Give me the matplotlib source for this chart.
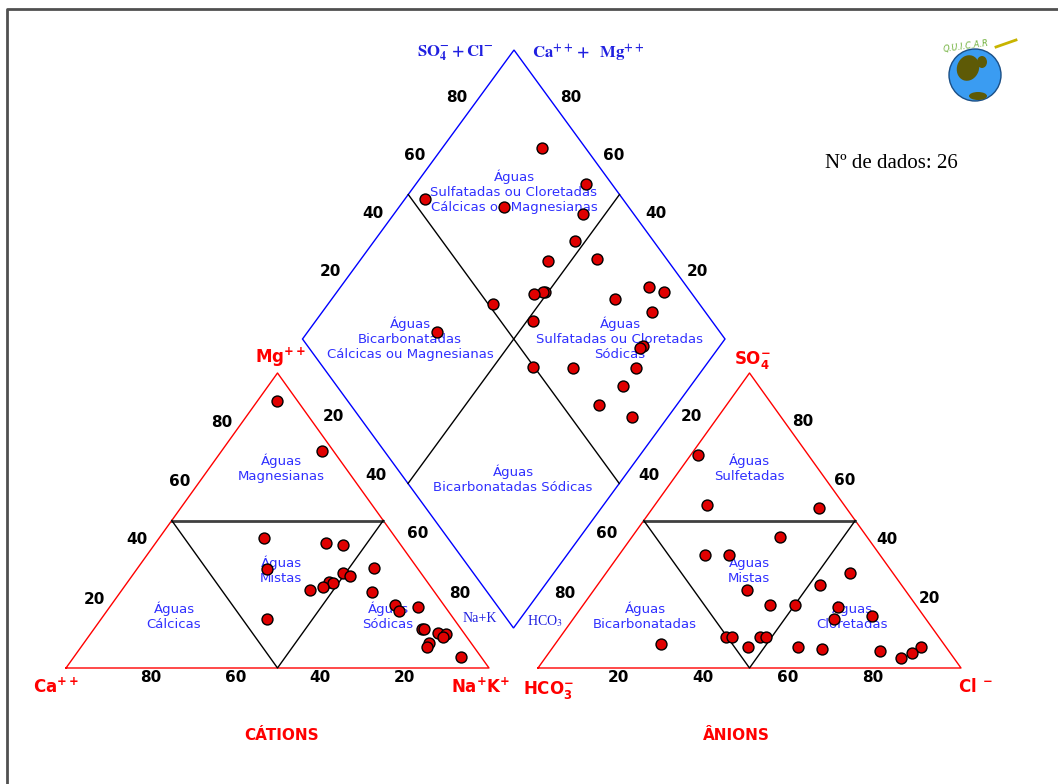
import numpy as np
import matplotlib.pyplot as plt
from matplotlib.patches import Polygon, Circle, Ellipse

# cations, % meq/L
ca = [4.9, 2.7, 31.1, 17.4, 13.7, 35.8, 10.1, 18.4, 17.4, 23.2, 22.5, 29.2, 25.6,
      14.6, 44.2, 11.5, 11.6, 6.4, 9.3, 8.7, 6.2, 4.4, 5.5, 10.0, 11.2, 4.8]
mg = [90.4, 73.6, 44.1, 42.3, 41.7, 33.5, 34.0, 32.2, 31.1, 29.3, 28.7, 26.3, 27.4,
      25.9, 16.7, 21.4, 19.3, 20.6, 13.3, 13.3, 11.9, 11.5, 10.6, 8.6, 7.1, 3.7]
nak = [4.7, 23.7, 24.8, 40.3, 44.6, 30.7, 55.9, 49.4, 51.5, 47.5, 48.8, 44.5, 47.0,
       59.5, 39.1, 67.1, 69.1, 73.0, 77.4, 78.0, 81.9, 84.1, 83.9, 81.4, 81.7, 91.5]
# anions, % meq/L
hco3 = [46.7, 10.2, 29.6, 6.0, 12.1, 66.9, 16.3, 34.4, 42.4, 18.7, 35.0, 28.4, 37.4,
        50.3, 48.9, 19.2, 40.9, 9.1, 6.5, 12.5, 20.5, 26.1, 32.4, 21.8, 41.3, 35.6]
so4 = [7.1, 32.1, 6.5, 7.1, 17.7, 8.0, 5.7, 21.5, 10.4, 20.8, 7.1, 21.5, 26.3,
       10.4, 10.4, 28.2, 10.4, 5.1, 54.2, 3.3, 44.5, 72.1, 55.2, 16.6, 38.3, 38.3]
cl = [46.2, 57.7, 63.9, 86.9, 70.2, 25.1, 78.0, 44.1, 47.2, 60.5, 57.9, 50.1, 36.3,
      39.3, 40.7, 52.6, 48.7, 85.8, 39.3, 84.2, 35.0, 1.8, 12.4, 61.6, 20.4, 26.1]
ticks = [20, 40, 60, 80]

W, H = 1058, 784
fig = plt.figure(figsize=(W / 100, H / 100), dpi=100)
ax = fig.add_axes([0, 0, 1, 1])
ax.set_xlim(0, W)
ax.set_ylim(H, 0)
ax.axis('off')

# layout in pixel space
side, tri_h = 423, 295
cat0 = (66.0, 668.0)
an0 = (538.0, 668.0)
top = np.array([514.0, 50.0])
left = np.array([302.5, 339.0])
right = np.array([725.0, 339.0])
bottom = left + right - top


def tri_xy(origin, rf, tf):
    rf, tf = np.asarray(rf, float), np.asarray(tf, float)
    return origin[0] + side * (rf + tf / 2), origin[1] - tri_h * tf


def dia_xy(u, v):
    u, v = np.asarray(u, float), np.asarray(v, float)
    x = top[0] + u * (right[0] - top[0]) + v * (left[0] - top[0])
    y = top[1] + u * (right[1] - top[1]) + v * (left[1] - top[1])
    return x, y


ca, mg, nak = map(np.array, (ca, mg, nak))
hco3, so4, cl = map(np.array, (hco3, so4, cl))
ct = ca + mg + nak
at = hco3 + so4 + cl

red, blue = '#ff0000', '#0000ff'

# triangles
for o in (cat0, an0):
    xs, ys = tri_xy(o, [0, 1, 0, 0], [0, 0, 1, 0])
    ax.plot(xs, ys, color=red, lw=1)
    xs, ys = tri_xy(o, [0, 0.5], [0.5, 0.5])
    ax.plot(xs, ys, color='#404040', lw=2)
    xs, ys = tri_xy(o, [0, 0.5, 0.5], [0.5, 0, 0.5])
    ax.plot(xs, ys, color='black', lw=1)

# diamond
ax.add_patch(Polygon([top, right, bottom, left], closed=True, fill=False, ec=blue, lw=1))
xs, ys = dia_xy([0, 1], [0.5, 0.5])
ax.plot(xs, ys, color='black', lw=1)
xs, ys = dia_xy([0.5, 0.5], [0, 1])
ax.plot(xs, ys, color='black', lw=1)

# tick labels
tk = dict(fontsize=11, fontweight='bold', ha='center', va='center', color='black')
for t in ticks:
    f = t / 100
    x, y = tri_xy(cat0, 1 - f, 0)
    ax.text(x, y + 10, str(t), **tk)
    x, y = tri_xy(cat0, 0, f)
    ax.text(x - 13.5, y - 10, str(t), **tk)
    x, y = tri_xy(cat0, f, 1 - f)
    ax.text(x + 13.5, y - 16, str(t), **tk)
    x, y = tri_xy(an0, f, 0)
    ax.text(x - 4, y + 10, str(t), **tk)
    x, y = tri_xy(an0, 0, 1 - f)
    ax.text(x - 16, y - 16, str(t), **tk)
    x, y = tri_xy(an0, 1 - f, f)
    ax.text(x + 11, y - 10.5, str(t), **tk)
    x, y = dia_xy(0, 1 - f)
    ax.text(x - 14.5, y - 10, str(t), **tk)
    x, y = dia_xy(1 - f, 0)
    ax.text(x + 15, y - 10, str(t), **tk)

# region names
rc = dict(fontsize=9.5, color='#3030ff', ha='center', va='center', linespacing=1.2,
          fontweight='medium')
regions = [
    (514, 192, 'Águas\nSulfatadas ou Cloretadas\nCálcicas ou Magnesianas'),
    (410, 339, 'Águas\nBicarbonatadas\nCálcicas ou Magnesianas'),
    (620, 339, 'Águas\nSulfatadas ou Cloretadas\nSódicas'),
    (513, 479, 'Águas\nBicarbonatadas Sódicas'),
    (281, 468, 'Águas\nMagnesianas'),
    (281, 570, 'Águas\nMistas'),
    (174, 616, 'Águas\nCálcicas'),
    (388, 616, 'Águas\nSódicas'),
    (749, 468, 'Águas\nSulfetadas'),
    (749, 570, 'Águas\nMistas'),
    (645, 616, 'Águas\nBicarbonatadas'),
    (852, 616, 'Águas\nCloretadas'),
]
for x, y, s in regions:
    ax.text(x, y, s, **rc)

# vertex names
vk = dict(fontsize=12, color=red, ha='center', va='center')
ax.text(281, 357, r'$\mathbf{Mg^{++}}$', **vk)
ax.text(56, 687, r'$\mathbf{Ca^{++}}$', **vk)
ax.text(481, 687, r'$\mathbf{Na^{+}K^{+}}$', **vk)
ax.text(548, 690, r'$\mathbf{HCO_3^{-}}$', **vk)
ax.text(975, 687, r'$\mathbf{Cl^{\ -}}$', **vk)
ax.text(752, 360, r'$\mathbf{SO_4^{-}}$', **vk)
ax.text(282, 736, 'CÁTIONS', fontsize=11, fontweight='bold', color=red, ha='center', va='center')
ax.text(736, 736, 'ÂNIONS', fontsize=11, fontweight='bold', color=red, ha='center', va='center')

dk = dict(fontsize=12, color='#2020e0', ha='center', va='center', math_fontfamily='stix')
ax.text(455, 53, r'$\mathbf{SO_4^{-}+Cl^{-}}$', **dk)
ax.text(588, 53, r'$\mathbf{Ca^{++}+\ \ Mg^{++}}$', **dk)
sk = dict(fontsize=10, color='#2020e0', ha='center', va='center', family='Liberation Serif',
          math_fontfamily='stix')
ax.text(480, 619, 'Na+K', **sk)
ax.text(545, 621, r'HCO$_3$', **sk)

# samples
mk = dict(s=62, c='#e00000', edgecolors='black', linewidths=1, zorder=5)
px, py = tri_xy(cat0, nak / ct, mg / ct)
ax.scatter(px, py, **mk)
px, py = tri_xy(an0, cl / at, so4 / at)
ax.scatter(px, py, **mk)
px, py = dia_xy(nak / ct, hco3 / at)
ax.scatter(px, py, **mk)

ax.text(891, 163, f'Nº de dados: {len(ca)}', fontsize=15, family='Liberation Serif',
        ha='center', va='center')

# little globe logo
ax.add_patch(Circle((975, 75), 26, fc='#3a9cf2', ec='#1b4f86', lw=1, zorder=3))
for cx, cy, w, h, a in [(968, 68, 22, 26, 20), (982, 62, 10, 12, 0), (978, 96, 18, 8, 0)]:
    ax.add_patch(Ellipse((cx, cy), w, h, angle=a, fc='#5e5a06', ec='none', zorder=4))
ax.text(966, 46, 'Q.U.I.C.A.R', fontsize=6, color='#6fb03a', style='italic',
        ha='center', va='center', rotation=8)
ax.plot([996, 1016], [47, 40], color='#c8b400', lw=2)

# panel border
ax.plot([6.5, 6.5, W], [H, 8.5, 8.5], color='#505050', lw=2)

fig.savefig('out.png', dpi=100)
